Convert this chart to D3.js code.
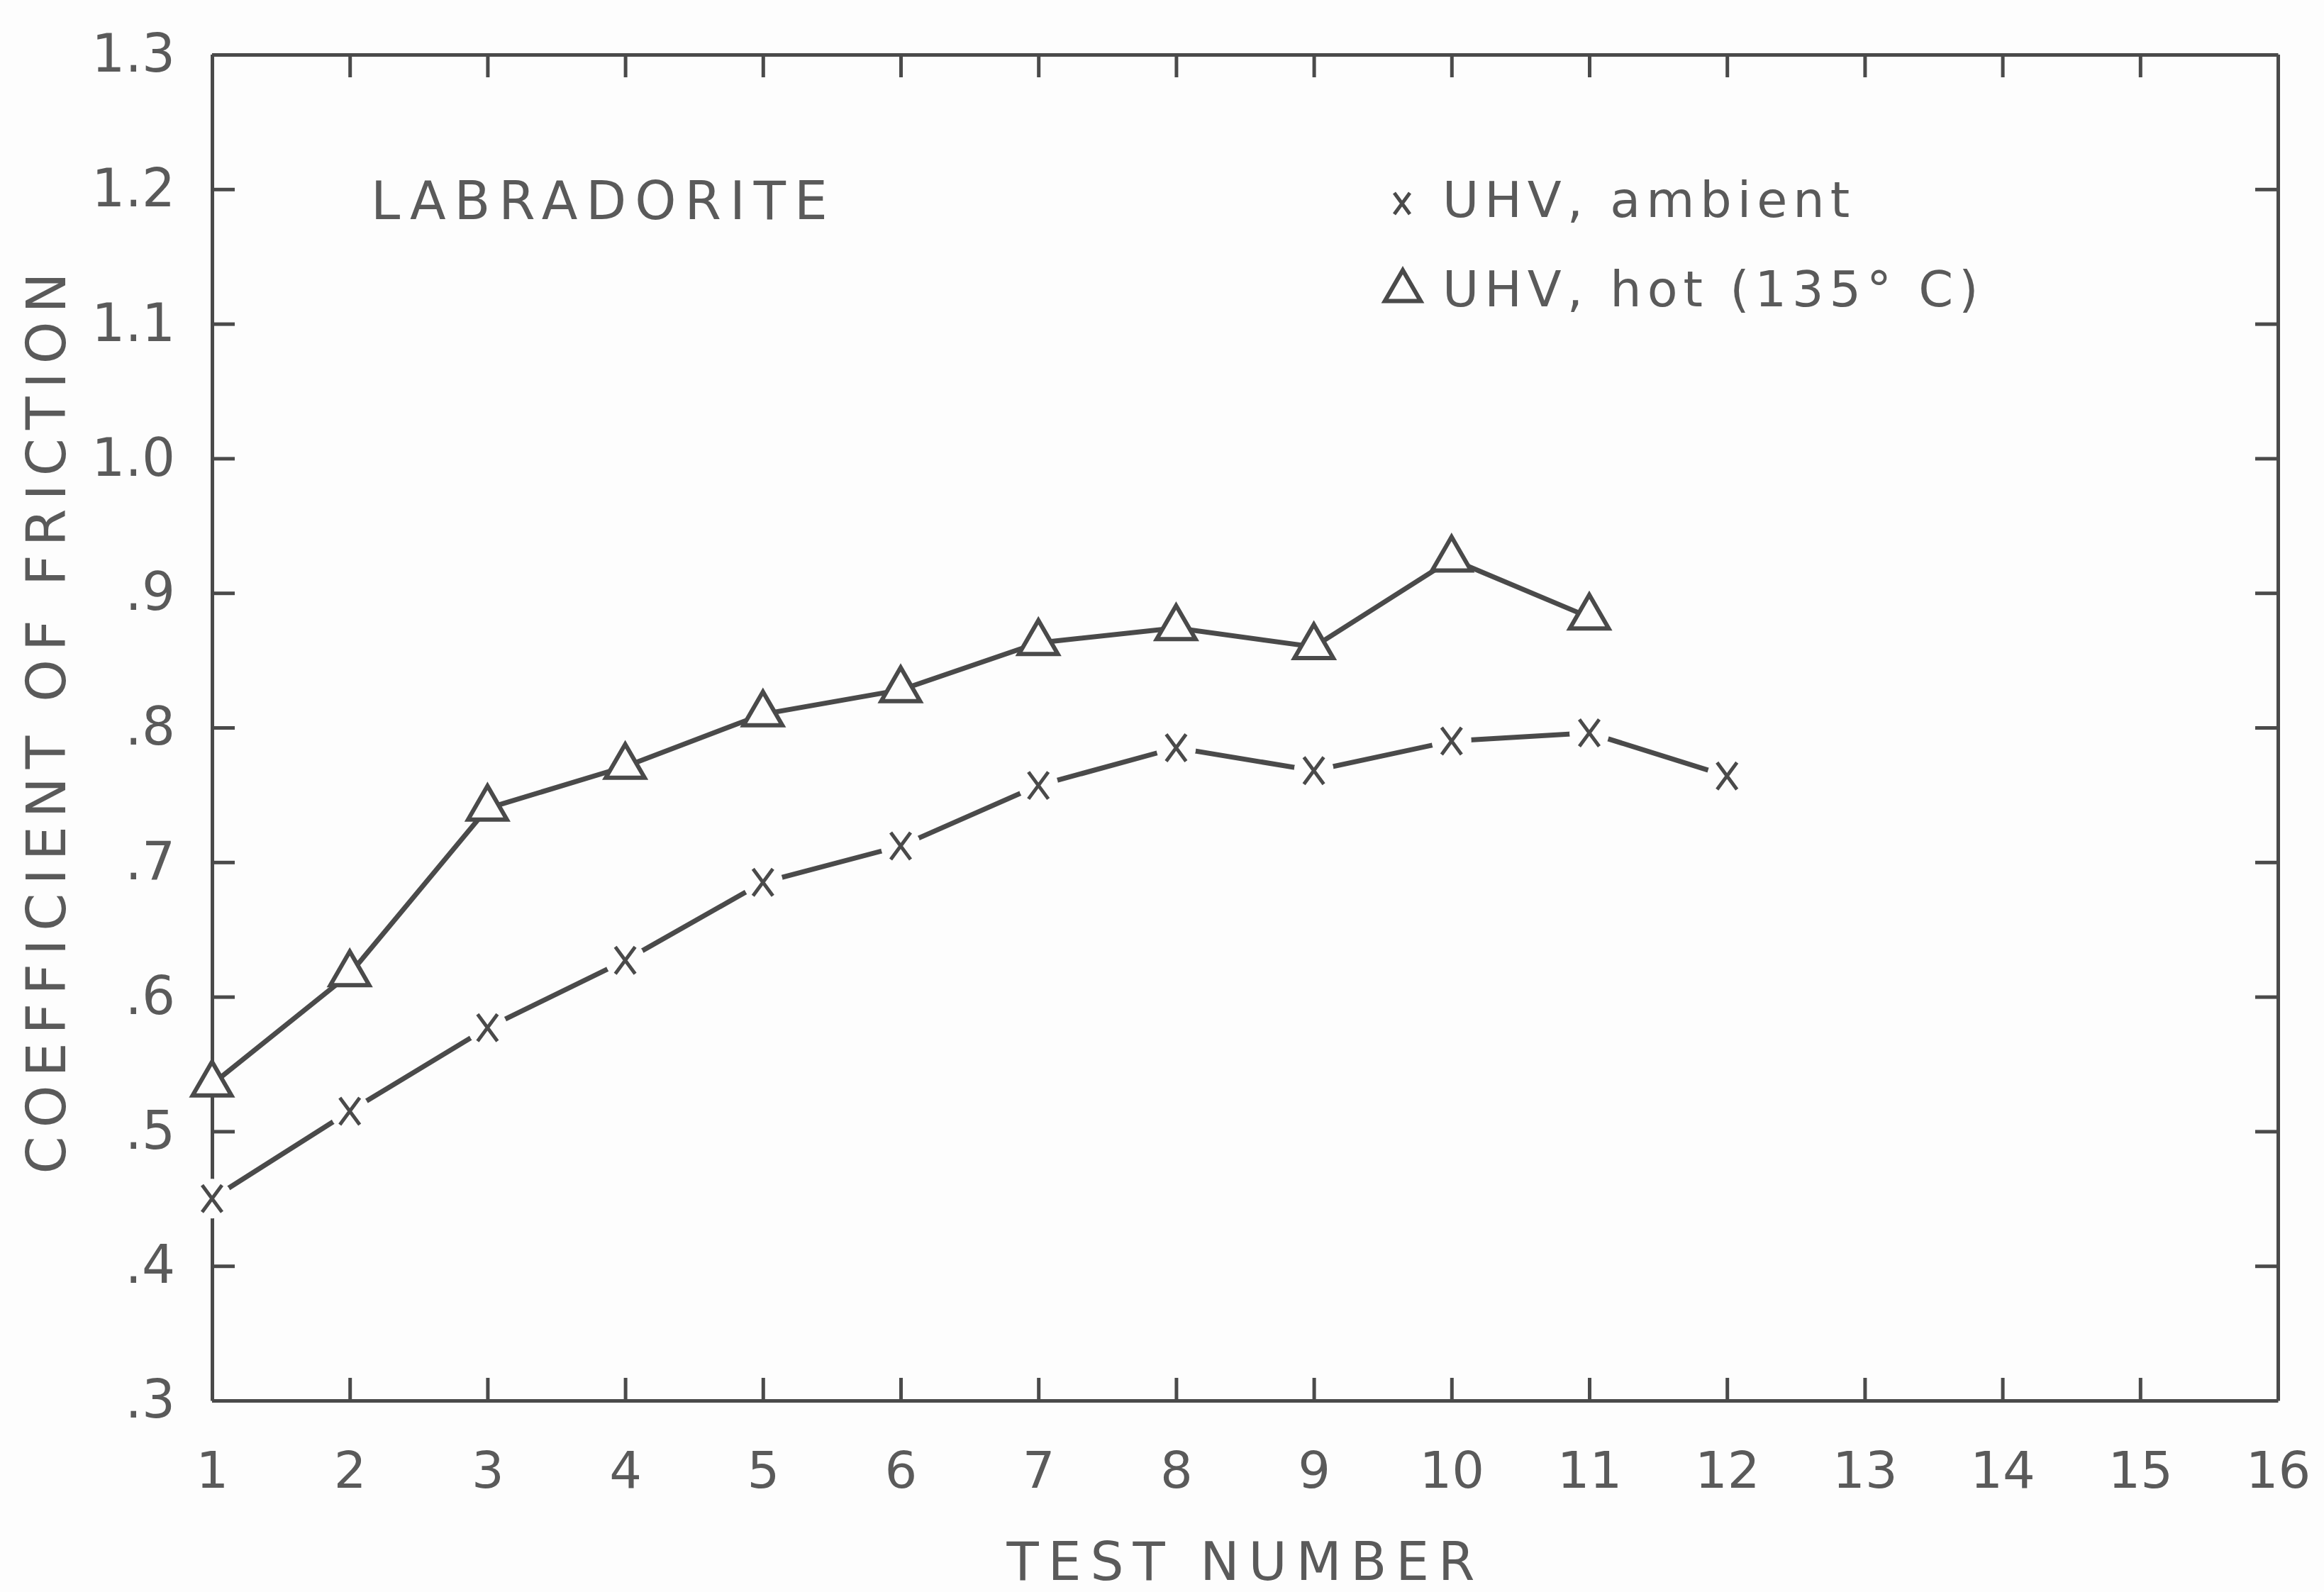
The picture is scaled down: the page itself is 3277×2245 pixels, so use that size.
<!DOCTYPE html>
<html><head><meta charset="utf-8">
<script src="https://cdn.jsdelivr.net/npm/d3@7"></script>
<style>
html,body{margin:0;padding:0;background:#fdfdfd;}
svg{display:block;}
text{font-family:"DejaVu Sans","Liberation Sans",sans-serif;fill:#5a5a5a;}
</style></head>
<body>
<script>
// ---- data ----
const testNumbers = [1,2,3,4,5,6,7,8,9,10,11,12,13,14,15,16];
const xTickLabels = ["1","2","3","4","5","6","7","8","9","10","11","12","13","14","15","16"];
const yTickValues = [1.3,1.2,1.1,1.0,0.9,0.8,0.7,0.6,0.5,0.4,0.3];
const yTickLabels = ["1.3","1.2","1.1","1.0",".9",".8",".7",".6",".5",".4",".3"];
const ambientTests = [1,2,3,4,5,6,7,8,9,10,11,12];
const ambientValues = [0.45,0.515,0.577,0.627,0.685,0.712,0.757,0.785,0.768,0.79,0.796,0.764];
const hotTests = [1,2,3,4,5,6,7,8,9,10,11];
const hotValues = [0.535,0.617,0.74,0.771,0.81,0.828,0.863,0.874,0.86,0.925,0.882];
const titleText = "LABRADORITE";
const legendLabels = ["UHV, ambient","UHV, hot (135° C)"];
const xAxisTitle = "TEST NUMBER";
const yAxisTitle = "COEFFICIENT OF FRICTION";

const W = 3277, H = 2245;
const m = {left:299, right:3212, top:77, bottom:1975};
const ink = "#4a4a4a";
const bg = "#fdfdfd";

const svg = d3.select("body").append("svg").attr("width",W).attr("height",H);

const x = d3.scaleLinear().domain([1,16]).range([m.left,m.right]);
const y = d3.scaleLinear().domain([0.3,1.3]).range([m.bottom,m.top]);

const tl = 32;
function styleAxis(g){
  g.selectAll(".domain").attr("stroke",ink).attr("stroke-width",5);
  g.selectAll(".tick line").attr("stroke",ink).attr("stroke-width",5);
}
// bottom
svg.append("g").attr("transform",`translate(0,${m.bottom})`)
  .call(d3.axisBottom(x).tickValues(testNumbers).tickSize(-tl).tickSizeOuter(0).tickPadding(72)
    .tickFormat((d,i)=>xTickLabels[i]))
  .call(styleAxis)
  .call(g=>g.selectAll("text").attr("font-size",72).attr("fill","#5a5a5a").style("font-family","DejaVu Sans"));
// top
svg.append("g").attr("transform",`translate(0,${m.top})`)
  .call(d3.axisTop(x).tickValues(testNumbers).tickSize(-tl).tickSizeOuter(0).tickFormat(""))
  .call(styleAxis);
// left
svg.append("g").attr("transform",`translate(${m.left},0)`)
  .call(d3.axisLeft(y).tickValues(yTickValues).tickSize(-tl).tickSizeOuter(0).tickPadding(52)
    .tickFormat((d,i)=>yTickLabels[i]))
  .call(styleAxis)
  .call(g=>g.selectAll("text").attr("font-size",74).attr("fill","#5a5a5a").style("font-family","DejaVu Sans"));
// right
svg.append("g").attr("transform",`translate(${m.right},0)`)
  .call(d3.axisRight(y).tickValues(yTickValues).tickSize(-tl).tickSizeOuter(0).tickFormat(""))
  .call(styleAxis);

// lines
const line = d3.line().x(d=>x(d[0])).y(d=>y(d[1]));
const ambient = ambientTests.map((t,i)=>[t,ambientValues[i]]);
const hot = hotTests.map((t,i)=>[t,hotValues[i]]);

svg.append("path").datum(ambient).attr("d",line).attr("fill","none").attr("stroke",ink).attr("stroke-width",7);
svg.append("path").datum(hot).attr("d",line).attr("fill","none").attr("stroke",ink).attr("stroke-width",7);

// x markers with gap
const ag = svg.append("g").selectAll("g").data(ambient).join("g")
  .attr("transform",d=>`translate(${x(d[0])},${y(d[1])})`);
ag.append("circle").attr("r",28).attr("fill",bg);
ag.append("path").attr("d","M-14,-19L14,19M14,-19L-14,19").attr("stroke",ink).attr("stroke-width",5).attr("fill","none");

// triangles
const tri = d3.symbol().type(d3.symbolTriangle).size(1300);
svg.append("g").selectAll("path").data(hot).join("path")
  .attr("transform",d=>`translate(${x(d[0])},${y(d[1])})`)
  .attr("d",tri).attr("fill",bg).attr("stroke",ink).attr("stroke-width",6);

// title
svg.append("text").attr("x",523).attr("y",309).attr("font-size",74).attr("letter-spacing",12).text(titleText);

// legend
const lg = svg.append("g");
lg.append("path").attr("d","M1966,272L1988,302M1988,272L1966,302").attr("stroke",ink).attr("stroke-width",5);
lg.append("text").attr("x",2034).attr("y",306).attr("font-size",70).attr("letter-spacing",8).text(legendLabels[0]);
lg.append("path").attr("d",d3.symbol().type(d3.symbolTriangle).size(1100)()).attr("transform","translate(1978,410)")
  .attr("fill",bg).attr("stroke",ink).attr("stroke-width",6);
lg.append("text").attr("x",2034).attr("y",432).attr("font-size",70).attr("letter-spacing",8).text(legendLabels[1]);

// axis titles
svg.append("text").attr("x",1756).attr("y",2228).attr("text-anchor","middle").attr("font-size",74).attr("letter-spacing",13).text(xAxisTitle);
svg.append("text").attr("transform","translate(92,1014) rotate(-90)").attr("text-anchor","middle").attr("font-size",76).attr("letter-spacing",12).text(yAxisTitle);
</script>
</body></html>
